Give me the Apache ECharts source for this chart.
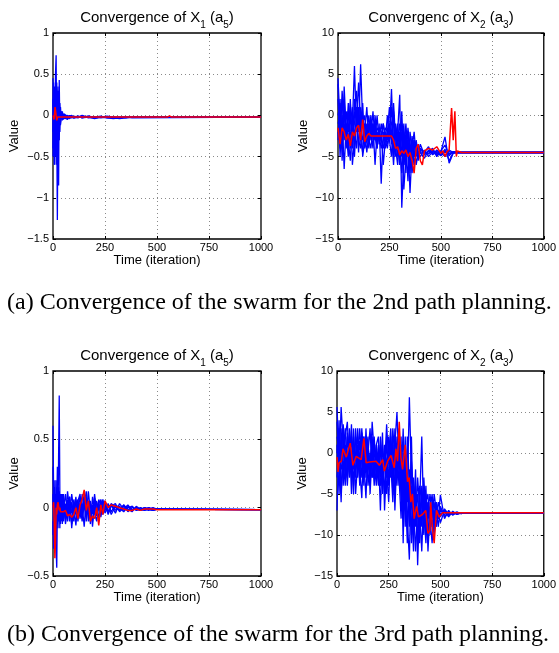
<!DOCTYPE html>
<html><head><meta charset="utf-8">
<script src="https://cdn.jsdelivr.net/npm/echarts@6/dist/echarts.min.js"></script>
<style>html,body{margin:0;padding:0;background:#fff}#c{width:559px;height:653px}</style>
</head><body><div id="c"></div>
<script>
// ---------- Panel A1: Convergence of X1 (a5), 2nd path ----------
const A1_ITER = [0,3,6,9,12,15,18,21,24,27,30,33,36,40,45,50,55,60,70,80,90,100,120,140,170,200,230,260,290,320,350,380,1000];
const A1_B1 = [0.2,-0.3,0.35,-0.2,0.5,0.73,-0.4,0.1,-0.1,0.05,0.2,-0.05,0.02,-0.04,0.03,-0.03,0.01,-0.04,0.0,-0.03,-0.01,-0.02,-0.03,-0.01,-0.02,-0.02,-0.03,-0.02,-0.02,-0.02,-0.02,-0.02,-0.02];
const A1_B2 = [-0.4,0.3,-0.6,0.2,-0.3,0.1,-0.2,-1.27,0.2,-0.3,0.1,-0.1,0.05,0.01,-0.06,0.02,-0.03,-0.01,-0.05,0.0,-0.02,-0.03,-0.01,-0.03,-0.02,-0.04,-0.02,-0.03,-0.03,-0.04,-0.03,-0.02,-0.02];
const A1_B3 = [0.45,-0.5,0.1,0.3,-0.2,0.2,0.1,-0.3,0.1,-0.85,0.43,-0.2,0.1,-0.05,0.05,-0.04,0.02,-0.02,-0.03,-0.01,0.0,-0.03,-0.02,0.0,-0.03,-0.02,-0.01,-0.03,-0.04,-0.03,-0.02,-0.02,-0.02];
const A1_B4 = [-0.2,0.1,-0.3,-0.6,0.3,-0.1,0.4,0.0,-0.3,0.2,-0.1,0.1,-0.08,0.03,-0.02,0.0,-0.04,0.01,-0.02,-0.04,-0.01,-0.02,-0.01,-0.03,-0.01,-0.02,-0.02,-0.01,-0.02,-0.03,-0.02,-0.02,-0.02];
const A1_B5 = [0.1,0.4,-0.1,-0.4,0.2,-0.5,0.3,0.15,0.35,-0.2,-0.3,0.15,-0.1,0.05,-0.03,0.01,-0.02,-0.03,0.0,-0.02,-0.03,-0.01,-0.02,-0.02,-0.01,-0.03,-0.02,-0.02,-0.03,-0.02,-0.03,-0.02,-0.02];
const A1_B6 = [-0.5,-0.1,0.2,-0.3,-0.5,0.3,-0.6,0.25,-0.5,0.3,-0.15,0.05,-0.12,0.02,0.0,-0.05,0.01,-0.02,-0.04,0.0,-0.02,-0.03,-0.02,-0.01,-0.02,-0.03,-0.02,-0.02,-0.02,-0.02,-0.02,-0.03,-0.02];
const A1_RED_ITER = [0,5,10,14,18,22,26,30,40,550,560,570,1000];
const A1_RED = [0,-0.05,0.1,0.08,-0.06,-0.02,-0.03,-0.02,-0.02,-0.02,-0.005,-0.02,-0.02];

// ---------- Panel A2: Convergenc of X2 (a3), 2nd path ----------
const A2_ITER = [0,10,20,30,40,50,60,70,80,90,100,110,120,130,140,150,160,170,180,190,200,210,220,230,240,250,260,270,280,290,300,310,320,330,340,350,360,370,380,390,400,420,440,460,480,500,520,540,560,580,600,1000];
const A2_B1 = [4.5,-1,2,-3,0.5,-2,1.5,-4,0,3, -2,6.2,-1,0,-3,-1,-2.5,0.5,-3,-1.5, -2,-3,-1,-2.5,-3.5,-2,3.2,-4,-2,-5, -3,-1,-6,-4,-2,-5,-3.5,-6,-4,-5, -4, -4.5,-3.8,-4.8,-4.2,-4.6,-4.3,-4.7,-4.4,-4.5,-4.5, -4.5];
const A2_B2 = [-3,2,-5.5,1,-2,0.5,-4,-1,6,-2, 1,-3,-4.5,-1,-2,0,-3,-1.5,-2,-4, -1,-8.3,-2,-3,0,-2.5,-1,0.5,-3,-2, 2.5,-11.2,-5,-3,-8,-2,-4,-3,-6,-4.5, -5, -4.2,-5,-4.4,-4.6,-4.8,-4.1,-5.5,-4.5,-4.5,-4.5, -4.5];
const A2_B3 = [3.8,-5,0,-6.5,-1,-3,-5.5,0,-2,-4, 0,-2,1.5,-4,-3,-1,-2,-4,0,-3, -2.5,-4,-3,-1.5,-2,-3,-5,0,-4,-6, -2,-5,-1,-7,-3,-9.4,-4,-2,-5,-3.5, -4.5, -5.2,-4.2,-4.5,-4.8,-4.3,-3.6,-4.9,-4.4,-4.5,-4.5, -4.5];
const A2_B4 = [0,1.5,-2,2,-4,0.5,-1,1,-5,-0.5, -3,-4,0,-2,1,-3,-4,-1,-6,-2, -3,-1,-2.5,-4,-2,1,-2,-5,-1,-3, -6,-2,-4,-1,-5,-3,-7,-4,-3,-5, -4.2, -4.6,-4.4,-4,-5,-4.4,-2.6,-5.8,-4.6,-4.5,-4.5, -4.5];
const A2_B5 = [-2,-4,3,-1,-3,1.5,-2,-3.5,2,-1, 4,-1,-3,-2,-4.5,-2,0,-3,-1,-3.5, -2,-3,-4,-2,-3,-1,-3.5,1.5,-3,-1, -4,-7,-2,-5,-3,-6,-2.5,-5,-3.5,-4.8, -3.5, -4.8,-4.3,-4.7,-4.4,-4.5,-5,-4.2,-4.5,-4.5,-4.5, -4.5];
const A2_B6 = [2,-3,-1,0,-2,-5,0,-2,-1,1, -2,0.5,-5,-3,-1,-3.5,-2,-1,-2.5,-4, -1.5,-2,-6,-3,-2,-3,-2,-6,-1.5,-4, -1,-3,-9,-5,-1.5,-4,-5.5,-3,-4.5,-3.8, -4.6, -4.4,-4.6,-4.3,-4.5,-4.9,-4.4,-4.6,-4.5,-4.5,-4.5, -4.5];
const A2_B7 = [-1,0,-4,3.5,-2,-4,2,-6,-3,0, -4.5,1,-1,-3.5,-2,-4,-0.5,-2,-3,0, -3.5,-2.5,-1,-3,-4,-2,1,-3,-5,-2, -3,0.5,-6,-2,-4,-7,-3,-5,-4,-5.5, -4, -4.5,-4.7,-4.2,-4.6,-4.4,-4.5,-4.4,-4.5,-4.5,-4.5, -4.5];
const A2_RED_ITER = [0,10,20,30,40,50,60,70,80,90,100,110,120,130,140,150,160,200,240,260,270,280,290,300,310,320,330,340,350,360,370,380,390,400,410,420,440,460,480,500,510,520,530,540,552,560,568,575,580,600,1000];
const A2_RED = [-1.5,-3.5,-1.5,-2,-3,-2.3,-3.7,-2,-2.5,-1.5,-1.2,-3,-0.5,-3.2,-2.5,-2.2,-2.5,-2.5,-2.5,-2.5,-3,-4,-3.8,-4.8,-4.3,-4.6,-4.2,-5,-4.5,-5.5,-7,-4,-3.5,-5.5,-6,-4.3,-4,-4.2,-3.8,-4.6,-4.3,-5,-4.4,-4.2,0.9,-3,0.5,-5,-4.3,-4.5,-4.5];

// ---------- Panel B1: Convergence of X1 (a5), 3rd path ----------
const B1_ITER = [0,3,6,9,12,15,18,21,24,27,30,33,36,40,45,50,60,70,80,90,100,110,120,130,140,150,160,170,180,190,200,210,220,230,240,250,265,280,300,320,340,360,380,400,420,440,460,480,500,1000];
const B1_B1 = [0.6,0.1,-0.2,0.05,0.1,-0.1,0.02,0.08,-0.05,0.1,0.0,-0.08,0.05,-0.1,0.08,-0.02,0.1,-0.05,0.03,-0.12,0.06,-0.03,0.02,-0.06,0.1,0.0,-0.04,0.05,-0.08,0.02,-0.05,0.04,-0.02,0.06,-0.03,0.02,-0.04,0.03,0.0,-0.02,0.02,-0.03,0.0,-0.01,-0.02,0.0,-0.01,-0.02,-0.01,-0.015];
const B1_B2 = [0.0,0.15,-0.1,0.2,-0.15,0.1,0.0,0.3,-0.1,0.4,0.82,0.1,-0.1,0.05,-0.08,0.1,-0.05,0.06,-0.1,0.03,-0.04,0.08,-0.06,0.02,-0.1,0.05,0.0,-0.05,0.03,-0.02,0.07,-0.06,0.01,-0.04,0.05,-0.02,0.03,-0.03,0.02,0.0,-0.03,0.01,-0.02,0.0,-0.02,-0.01,0.0,-0.01,-0.01,-0.015];
const B1_B3 = [-0.2,0.1,0.05,-0.15,0.08,-0.3,-0.44,0.0,0.12,-0.1,0.05,-0.15,0.1,0.0,-0.12,0.05,-0.08,0.12,-0.02,0.04,-0.1,0.0,0.06,-0.08,0.02,-0.14,0.08,-0.1,0.03,-0.05,0.1,-0.03,0.04,-0.07,0.02,0.05,-0.03,0.02,-0.04,0.03,-0.01,0.02,-0.02,0.0,-0.02,-0.01,-0.02,-0.01,-0.01,-0.015];
const B1_B4 = [0.3,-0.1,0.12,-0.05,-0.2,0.05,0.1,-0.12,0.0,0.15,-0.05,0.07,-0.12,0.1,0.02,-0.07,0.03,-0.1,0.08,-0.04,0.02,-0.13,0.05,0.1,-0.05,0.03,-0.1,0.12,-0.03,-0.1,0.0,0.05,-0.08,0.0,-0.03,0.04,-0.05,0.01,0.03,-0.03,0.0,-0.02,0.01,-0.02,0.0,-0.02,-0.01,0.0,-0.01,-0.015];
const B1_B5 = [-0.1,-0.3,0.1,0.0,0.05,-0.05,0.15,-0.05,0.08,-0.08,0.12,-0.02,0.0,-0.05,0.1,-0.1,0.0,0.04,-0.06,0.1,-0.02,0.04,-0.1,0.05,0.0,0.1,-0.06,0.02,-0.12,0.08,-0.04,-0.1,0.06,0.02,-0.05,0.0,0.02,-0.05,0.01,-0.02,0.02,-0.01,-0.03,0.01,-0.01,-0.02,0.0,-0.02,-0.01,-0.015];
const B1_B6 = [0.1,0.0,-0.15,0.1,-0.1,0.2,-0.1,0.05,-0.15,0.05,-0.1,0.05,0.08,-0.08,0.0,0.05,-0.12,0.0,0.08,-0.15,0.03,-0.05,0.0,0.08,-0.07,0.02,0.12,-0.04,0.05,-0.14,0.04,-0.02,0.0,0.03,0.06,-0.04,0.01,0.02,-0.02,0.01,-0.02,0.0,0.01,-0.02,-0.01,0.0,-0.01,-0.02,-0.01,-0.015];
const B1_RED = [0.0,0.04,-0.1,-0.37,-0.25,0.0,-0.05,0.02,0.04,0.03,-0.02,0.0,-0.03,-0.02,-0.02,-0.03,-0.02,-0.06,-0.05,-0.07,-0.05,0.0,-0.08,0.02,0.06,0.13,-0.02,0.05,-0.1,-0.06,-0.08,0.0,-0.13,0.02,-0.05,0.05,0.0,0.02,0.01,0.0,-0.01,-0.02,-0.02,-0.01,-0.02,-0.01,-0.01,-0.01,-0.015,-0.015];

// ---------- Panel B2: Convergenc of X2 (a3), 3rd path ----------
const B2_ITER = [0,10,20,30,40,50,60,70,80,90,100,110,120,130,140,150,160,170,180,190,200,210,220,230,240,250,260,270,280,290,300,310,320,330,340,350,360,370,380,390,400,410,420,430,440,450,460,470,480,490,500,520,540,560,580,600,620,1000];
const B2_B1 = [3.8,-2,5.6,1,-3,2,-1,3.5,-4,0, 2,-2,3,-1,-5.5,1,-3,3.8,0,-2, 1,-3,2.5,-7,-1,0,3,-4,1,5, -2,2,-11,1,-5,6.8,-3,-8,-2,-13.7, -6,2,-9,-4,-12,-7,-5,-9,-6,-8, -5.1, -8,-7,-7.6,-7.2,-7.4,-7.3, -7.3];
const B2_B2 = [-7,2,-1,3.5,0,-4,1,-2,3,-5, -1,1.5,-3,0,2,-4,-1,1,-3,0, -2,1,-5,0,-3,2,-1,-6,0,-2, 3,-6,-1,-9,2,-4,-10,-3,-7,-5, -11,-4,-8,-6,-5,-10,-7,-6,-9,-7, -7.5, -7,-7.8,-7.1,-7.5,-7.3,-7.3, -7.3];
const B2_B3 = [1,-5,3,-3,2,3.8,-2,0,-5,2, 0,-3,2.5,-2,1,-1,-4,2,-2,1, -3,0,-1,-5,2,-4,0,1,-5,-1, -3,-8,0,-4,-11,-2,-6,-12,-4,-8, -5,-9,-3,-8,-10,-6,-8,-5,-7,-9, -6.5, -7.8,-7.2,-7.5,-7.3,-7.3,-7.3, -7.3];
const B2_B4 = [-3,4,-5,0,3,-2,2,-5,1,-1, 3,-2,-5.5,2,-2,0,3,-3,-1,-4, 0,-7,1,-2,3.5,-1,-3,2,-7,0, -4,1,-5,-2,-8,-13,-1,-5,-9,-3, -7,-12,-5,-9,-6,-8,-11,-7,-8,-6, -7, -7.2,-7.6,-7.3,-7.2,-7.4,-7.3, -7.3];
const B2_B5 = [2,0,-6,2.5,-1,-3,3,-1,-2,3, -3,0,1,-4,3,-2,0,-1,2,-3, -1,-2,-4,1,-2,-6,1,-2,-4,2, 0,-4,3,-7,-3,-9,2,-10,-6,-11, -4,-6,-10,-5,-8,-7,-9,-8,-6,-7.5, -8.5, -7,-7.4,-7.2,-7.5,-7.3,-7.3, -7.3];
const B2_B6 = [5.6,-1,1,-4,1,0,-3,2,-1,-2, -1,3,-1,-3,0,2,-5,0,-4,1, 2,-4,-2,-1,-5,1,-2,3,-1,-4, 1,-5,-8,0,-6,-3,-11,-6,-12,-7, -9,-5,-7,-11,-6,-9,-6,-8,-7,-7, -7.8, -6.8,-7.5,-7.3,-7.4,-7.3,-7.3, -7.3];
const B2_B7 = [0,3,-2,-1,-4,2.5,0,-3,2,-3, 1,-4,0,2,-3,1,-2,-3,1,-1, -4,2,-3,0,-1,-3,2,-5,3,-3, -1,-3,-6,2,-9,-5,-4,-9,-5,-10, -8,-6,-4,-10,-7,-5,-8,-10,-6,-8, -7, -7.5,-7.2,-7.4,-7.3,-7.3,-7.3, -7.3];
const B2_RED_ITER = [0,5,10,21,29,45,64,77,93,117,130,141,157,189,205,221,229,245,261,277,285,293,301,309,317,330,341,349,357,365,373,385,394,413,429,440,449,453,461,470,481,494,510,1000];
const B2_RED = [-0.5,-2.3,-1.2,-1,0.5,-0.5,1.2,-1.5,-0.4,-0.8,1.8,-1.2,-1.1,-1.0,-1.5,-0.8,-2.2,-1.0,-0.3,-1.8,0.5,-1,3.8,-0.5,-2,1,-3.5,-3,-6,-5,-8,-6.5,-7.8,-7.5,-7,-9.8,-9.5,-6,-9,-11,-7,-7.8,-7.3,-7.3];

// ---------- Text ----------
const TITLE_X1 = 'Convergence of X{s|1} (a{s|5})';
const TITLE_X2 = 'Convergenc of X{s|2} (a{s|3})';
const CAPTION_A = '(a) Convergence of the swarm for the 2nd path planning.';
const CAPTION_B = '(b) Convergence of the swarm for the 3rd path planning.';
const X_TICKS = {min: 0, max: 1000, interval: 250};
const Y_RANGES = [
  {min: -1.5, max: 1, interval: 0.5},
  {min: -15, max: 10, interval: 5},
  {min: -0.5, max: 1, interval: 0.5},
  {min: -15, max: 10, interval: 5}
];

const panels = [
  {iter: A1_ITER, blues: [A1_B1,A1_B2,A1_B3,A1_B4,A1_B5,A1_B6], redIter: A1_RED_ITER, red: A1_RED},
  {iter: A2_ITER, blues: [A2_B1,A2_B2,A2_B3,A2_B4,A2_B5,A2_B6,A2_B7], redIter: A2_RED_ITER, red: A2_RED},
  {iter: B1_ITER, blues: [B1_B1,B1_B2,B1_B3,B1_B4,B1_B5,B1_B6], redIter: B1_ITER, red: B1_RED},
  {iter: B2_ITER, blues: [B2_B1,B2_B2,B2_B3,B2_B4,B2_B5,B2_B6,B2_B7], redIter: B2_RED_ITER, red: B2_RED}
];

const SANS = '"Liberation Sans", Arial, sans-serif';
const SERIF = '"Liberation Serif", "Times New Roman", serif';
const grids = [
  {left: 53, top: 33, width: 208, height: 206},
  {left: 338, top: 33, width: 207, height: 206},
  {left: 53, top: 371, width: 208, height: 205},
  {left: 337, top: 371, width: 208, height: 205}
];
const fmt = v => String(v).replace('-', '\u2212');
const GRIDLINE = {type: [1, 3], color: '#8a8a8a', width: 1};
const TICK = {show: true, inside: true, length: 3, lineStyle: {color: '#000'}};

const xAxes = [], yAxes = [], series = [];
grids.forEach((g, i) => {
  xAxes.push({
    type: 'value', gridIndex: i, position: 'bottom', min: X_TICKS.min, max: X_TICKS.max, interval: X_TICKS.interval,
    axisLine: {show: false, onZero: false},
    axisTick: TICK,
    axisLabel: {color: '#000', fontSize: 11, fontFamily: SANS, margin: 3, formatter: fmt},
    splitLine: {show: true, showMinLine: false, showMaxLine: false, lineStyle: GRIDLINE},
    name: 'Time (iteration)', nameLocation: 'middle', nameGap: 14,
    nameTextStyle: {fontSize: 13, fontFamily: SANS, color: '#000'}
  });
  yAxes.push({
    type: 'value', gridIndex: i, position: 'left', min: Y_RANGES[i].min, max: Y_RANGES[i].max, interval: Y_RANGES[i].interval,
    axisLine: {show: false, onZero: false},
    axisTick: TICK,
    axisLabel: {color: '#000', fontSize: 11, fontFamily: SANS, margin: 4, formatter: fmt},
    splitLine: {show: true, showMinLine: false, showMaxLine: false, lineStyle: GRIDLINE},
    name: 'Value', nameLocation: 'middle', nameGap: (i % 2 === 0) ? 32 : 28,
    nameTextStyle: {fontSize: 13, fontFamily: SANS, color: '#000'}
  });
  const p = panels[i];
  p.blues.forEach(ys => {
    series.push({
      type: 'line', xAxisIndex: i, yAxisIndex: i, showSymbol: false, silent: true,
      data: p.iter.map((x, k) => [x, ys[k]]),
      lineStyle: {color: '#0000ff', width: 1.3}, z: 2
    });
  });
  series.push({
    type: 'line', xAxisIndex: i, yAxisIndex: i, showSymbol: false, silent: true,
    data: p.redIter.map((x, k) => [x, p.red[k]]),
    lineStyle: {color: '#ff0000', width: 1.5}, z: 3
  });
});
// mirror ticks on top and right (box style)
grids.forEach((g, i) => {
  xAxes.push({
    type: 'value', gridIndex: i, position: 'top', min: X_TICKS.min, max: X_TICKS.max, interval: X_TICKS.interval,
    axisLine: {show: false, onZero: false}, axisLabel: {show: false}, splitLine: {show: false},
    axisTick: TICK
  });
  yAxes.push({
    type: 'value', gridIndex: i, position: 'right', min: Y_RANGES[i].min, max: Y_RANGES[i].max, interval: Y_RANGES[i].interval,
    axisLine: {show: false, onZero: false}, axisLabel: {show: false}, splitLine: {show: false},
    axisTick: TICK
  });
});

const titleStyle = {
  fontFamily: SANS, fontSize: 15, fontWeight: 'normal', color: '#000', lineHeight: 24,
  rich: {s: {fontFamily: SANS, fontSize: 10, lineHeight: 10, verticalAlign: 'bottom', color: '#000'}}
};
const titles = [
  {text: TITLE_X1, left: 157, top: 6, textAlign: 'center', textStyle: titleStyle, padding: 0},
  {text: TITLE_X2, left: 441, top: 6, textAlign: 'center', textStyle: titleStyle, padding: 0},
  {text: TITLE_X1, left: 157, top: 344, textAlign: 'center', textStyle: titleStyle, padding: 0},
  {text: TITLE_X2, left: 441, top: 344, textAlign: 'center', textStyle: titleStyle, padding: 0},
  {text: CAPTION_A, left: 7, top: 291, padding: 0, textStyle: {fontFamily: SERIF, fontSize: 24, fontWeight: 'normal', color: '#000'}},
  {text: CAPTION_B, left: 7, top: 623, padding: 0, textStyle: {fontFamily: SERIF, fontSize: 24, fontWeight: 'normal', color: '#000'}}
];

const chart = echarts.init(document.getElementById('c'));
chart.setOption({
  animation: false,
  backgroundColor: '#fff',
  title: titles,
  grid: grids.map(g => Object.assign({show: true, borderColor: '#000', borderWidth: 1.3, backgroundColor: 'transparent'}, g)),
  xAxis: xAxes,
  yAxis: yAxes,
  series: series
});
</script></body></html>
